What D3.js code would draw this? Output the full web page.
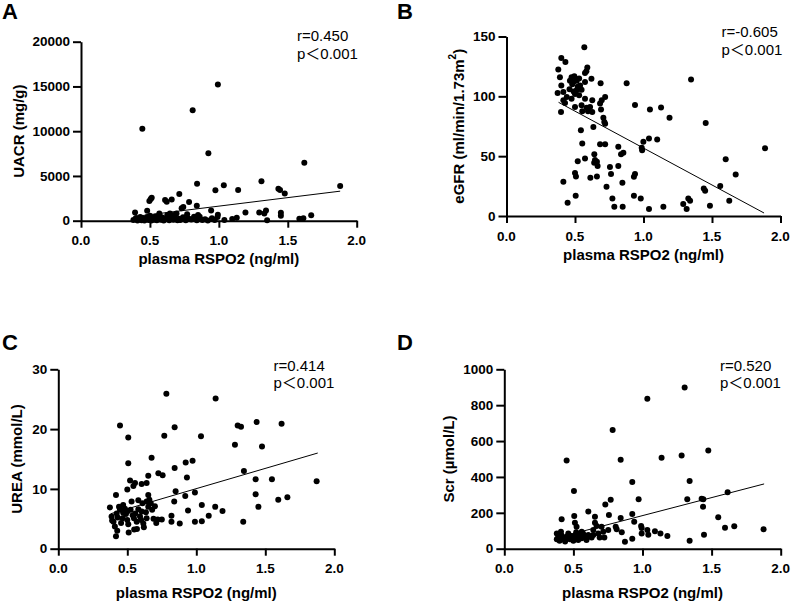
<!DOCTYPE html>
<html>
<head>
<meta charset="utf-8">
<script src="https://cdn.jsdelivr.net/npm/d3@7"></script>
<style>
  body { margin: 0; background: #fff; }
  svg { display: block; }
  text { font-family: "Liberation Sans", Arial, "Noto Sans CJK SC", sans-serif; fill: #000; }
</style>
</head>
<body>
<svg id="chart" width="791" height="603"></svg>
<script>
// ---- data (x = plasma RSPO2 ng/ml) ----
var xTicks = [0, 0.5, 1.0, 1.5, 2.0]

// A: UACR
var rspoA = [0.445,0.81,0.993,0.924,1.62,0.842,1.036,0.975,1.14,1.309,1.432,1.444,1.478,1.88,0.713,0.784,0.506,0.496,0.513,0.61,0.622,0.658,0.742,0.73,0.84,0.392,0.48,0.568,0.626,0.645,0.674,0.693,0.77,0.849,0.861,0.944,0.993,1.193,1.293,1.342,1.33,1.45,1.45,1.67,1.584,1.613,1.35,1.04,1.097,1.13,0.99,
  0.38,0.40,0.41,0.42,0.43,0.44,0.45,0.46,0.47,0.48,0.49,0.50,0.51,0.52,0.53,0.54,0.55,0.56,0.57,0.58,0.59,0.60,0.62,0.63,0.64,0.66,0.67,0.68,0.70,0.71,0.72,0.74,0.76,0.78,0.80,0.82,0.84,0.86,0.88,0.90,0.92,0.95,0.97]
var uacr = [10280,12330,15230,7530,6480,4130,3950,3390,3430,4400,3560,3430,3050,3880,2990,2080,2420,2200,2570,2310,2120,2380,1530,1380,1680,930,1110,810,640,810,640,810,710,640,450,1150,670,930,930,1150,800,890,560,600,220,260,40,70,180,320,420,
  80,300,20,150,420,60,250,30,180,400,90,550,20,300,120,480,50,260,600,110,350,30,180,420,60,300,100,520,40,220,90,380,60,250,130,450,40,200,70,150,30,260,80]
var fitA = [[0.38, 450], [1.88, 3300]]

// B: eGFR
var rspoB = [0.568,0.40,0.43,0.378,0.59,0.583,0.573,0.39,0.62,0.475,0.495,0.463,0.488,0.512,0.573,0.687,0.877,0.40,0.537,0.548,0.512,0.50,0.53,0.373,0.415,0.44,0.475,0.573,0.626,0.695,0.72,0.683,0.415,0.427,0.938,1.047,0.50,0.548,0.585,0.61,0.398,0.553,0.595,0.626,0.69,0.707,0.72,0.714,0.634,0.543,0.553,0.683,0.72,0.816,0.836,0.853,0.999,0.987,0.99,1.04,0.641,0.646,0.66,0.665,0.64,0.573,0.52,0.755,0.816,0.50,0.507,0.66,0.763,0.612,0.938,0.93,0.415,0.846,0.73,0.505,0.773,0.93,0.98,0.446,0.787,0.848,1.04,
  1.347,1.128,1.19,1.454,1.10,1.60,1.673,1.56,1.44,1.45,1.626,1.485,1.327,1.34,1.29,1.315,1.145,1.887,0.48,0.52,0.46,0.53,0.49]
var egfr = [141,132,128.6,122.5,124,121,119.4,116,114.7,116,116.7,113,112,113,112,111,111,109,109,105.6,105,102,101,102.8,103.6,99.4,98,98,96.7,96.7,99.4,94,96.7,94.4,92.8,88.9,91,92.5,90.5,91,87,87.5,87.5,87,89,82,77,78.6,74.4,71.7,60.5,60,60,57.8,51.7,52.8,62,57,55,64.7,51.7,46.7,45.3,41.7,44.4,48,45.8,41,41.7,36,33,33,35,32,35,32.8,28.6,27.8,24.4,17,14.7,17,14.7,11,7.8,7.8,5.8,
  114,90.6,82,77.8,64,47.5,34.7,25,23,21,12.8,8.6,14.7,12.8,10,5.8,7.8,56.7,110,108,106,115,104]
var fitB = [[0.38, 95], [1.88, 2.5]]

// C: UREA
var rspoC = [0.783,1.14,0.447,0.507,0.768,0.843,1.034,1.30,1.324,1.437,1.618,1.28,1.476,0.507,0.676,0.725,0.756,0.843,0.923,0.973,0.932,1.345,1.43,1.548,1.872,0.652,0.52,0.556,0.544,0.604,0.64,0.418,0.5,0.85,0.99,1.43,1.594,1.66,0.84,0.652,0.66,0.67,0.64,0.7,0.68,0.92,1.04,1.137,1.19,0.94,0.82,0.82,0.88,0.99,1.04,1.09,1.34,0.72,0.75,0.71,1.45,
  0.374,0.386,0.40,0.41,0.418,0.427,0.423,0.447,0.466,0.483,0.49,0.50,0.507,0.51,0.524,0.539,0.548,0.558,0.568,0.57,0.592,0.604,0.616,0.62,0.635,0.652,0.64,0.44,0.47,0.531,0.58,0.39,0.455,0.47,0.55,0.6,0.5,0.43,0.69,0.61,0.58]
var urea = [25.9,25.1,20.6,18.6,18.9,20.3,18.8,20.6,20.4,21.2,20.9,17.4,17.1,14.3,15.2,12.6,12.3,13.5,14.4,14.7,11.9,13.0,11.6,11.6,11.3,12.2,11.4,11.0,10.5,10.8,11.0,9.0,9.9,9.6,9.4,9.1,8.2,8.6,7.9,9.0,8.2,7.6,7.9,7.1,6.5,8.8,7.3,7.0,6.3,6.4,5.5,4.5,4.2,4.5,4.6,5.5,4.5,4.9,4.9,4.3,7.0,
  6.9,5.4,4.5,3.7,2.1,3.0,5.9,6.5,5.1,6.7,5.8,4.8,4.1,2.7,6.5,5.6,5.1,5.9,4.5,3.3,5.4,6.2,4.2,3.6,6.1,7.0,5.1,7.0,7.3,7.9,8.1,4.7,4.3,6.0,3.2,4.8,6.2,5.2,5.0,7.6,6.6]
var fitC = [[0.38, 5.85], [1.88, 16.0]]

// D: Scr
var rspoD = [1.305,1.035,0.784,0.451,0.842,1.138,1.283,1.476,0.504,0.926,1.341,1.616,0.972,1.324,1.428,1.44,1.438,0.731,0.77,0.608,0.506,0.415,0.656,0.757,0.926,0.842,1.548,1.597,1.664,1.876,0.94,0.99,0.994,0.806,0.813,0.85,1.035,1.042,1.09,1.13,1.18,0.994,0.926,0.873,1.341,1.445,0.656,0.668,0.644,0.511,0.523,0.704,0.716,0.68,0.69,0.724,0.752,0.56,0.57,
  0.38,0.39,0.40,0.415,0.427,0.44,0.45,0.463,0.475,0.487,0.50,0.511,0.523,0.535,0.547,0.56,0.584,0.595,0.608,0.632,0.644,0.38,0.41,0.46,0.52,0.62]
var scr = [898,836,662,491,496,507,519,548,322,372,377,314,275,275,279,275,234,247,273,208,182,164,178,188,193,171,175,117,125,108,150,126,115,123,108,91,104,78,97,85,71,85,56,39,45,78,145,126,104,145,123,123,95,85,63,63,104,95,85,
  85,63,45,74,52,40,67,85,52,71,45,63,85,48,71,58,71,48,76,63,76,52,95,60,92,68]
var fitD = [[0.38, 60], [1.88, 361]]

// ---- layout of the four panels (pixels) ----
var panels = [
  {letter: "A", lx: 2, ly: 18.5, x0: 81, x1: 356.7, yTop: 41.7, yBot: 220.7, yMax: 20000, yTicks: [0,5000,10000,15000,20000],
   xs: rspoA, ys: uacr, fit: fitA, yTitle: "UACR (mg/g)", yTitleX: 18, xTitleY: 264, r: "r=0.450", statX: 297, statY: 41},
  {letter: "B", lx: 397, ly: 18.5, x0: 506.5, x1: 780.5, yTop: 36.5, yBot: 216, yMax: 150, yTicks: [0,50,100,150],
   xs: rspoB, ys: egfr, fit: fitB, yTitle: null, yTitleX: 458, xTitleY: 260, r: "r=-0.605", statX: 721.5, statY: 37},
  {letter: "C", lx: 2, ly: 350, x0: 58.3, x1: 334.3, yTop: 369.3, yBot: 548.7, yMax: 30, yTicks: [0,10,20,30],
   xs: rspoC, ys: urea, fit: fitC, yTitle: "UREA (mmol/L)", yTitleX: 16.7, xTitleY: 598, r: "r=0.414", statX: 273.5, statY: 370.5},
  {letter: "D", lx: 397, ly: 350, x0: 504.3, x1: 780.7, yTop: 369.3, yBot: 548.7, yMax: 1000, yTicks: [0,200,400,600,800,1000],
   xs: rspoD, ys: scr, fit: fitD, yTitle: "Scr (\u00b5mol/L)", yTitleX: 448.3, xTitleY: 598, r: "r=0.520", statX: 720, statY: 370.5}
]

var svg = d3.select("#chart")

function drawPanel(p) {
  var g = svg.append("g")
  var xScale = d3.scaleLinear().domain([0, 2]).range([p.x0, p.x1])
  var yScale = d3.scaleLinear().domain([0, p.yMax]).range([p.yBot, p.yTop])

  // points
  g.selectAll("circle")
    .data(d3.zip(p.xs, p.ys))
    .join("circle")
      .attr("cx", d => xScale(d[0]))
      .attr("cy", d => yScale(d[1]))
      .attr("r", 3)
      .attr("fill", "#000")

  // fit line
  g.append("path")
    .attr("d", d3.line().x(d => xScale(d[0])).y(d => yScale(d[1]))(p.fit))
    .attr("stroke", "#000")
    .attr("stroke-width", 1)
    .attr("fill", "none")

  // axes (lines only; labels drawn below in bold)
  var x_axis = g.append("g")
    .attr("transform", "translate(0," + p.yBot + ")")
    .call(d3.axisBottom(xScale).tickValues(xTicks).tickFormat("").tickSize(7).tickSizeOuter(0))
  var y_axis = g.append("g")
    .attr("transform", "translate(" + p.x0 + ",0)")
    .call(d3.axisLeft(yScale).tickValues(p.yTicks).tickFormat("").tickSize(8).tickSizeOuter(0))
  ;[x_axis, y_axis].forEach(function(a) {
    a.select(".domain").attr("stroke-width", 2)
    a.selectAll(".tick line").attr("stroke-width", 2)
  })

  g.selectAll(".xlab")
    .data(xTicks)
    .join("text")
      .attr("class", "xlab")
      .attr("x", d => xScale(d))
      .attr("y", p.yBot + 24.5)
      .attr("text-anchor", "middle")
      .attr("font-size", 13.5)
      .attr("font-weight", "bold")
      .text(d3.format(".1f"))
  g.selectAll(".ylab")
    .data(p.yTicks)
    .join("text")
      .attr("class", "ylab")
      .attr("x", p.x0 - 11)
      .attr("y", d => yScale(d))
      .attr("dy", "0.35em")
      .attr("text-anchor", "end")
      .attr("font-size", 13.5)
      .attr("font-weight", "bold")
      .text(d3.format("d"))

  // titles
  g.append("text")
    .attr("x", (p.x0 + p.x1) / 2)
    .attr("y", p.xTitleY)
    .attr("text-anchor", "middle")
    .attr("font-size", 15)
    .attr("font-weight", "bold")
    .text("plasma RSPO2 (ng/ml)")

  var yt = g.append("text")
    .attr("transform", "translate(" + p.yTitleX + "," + ((p.yTop + p.yBot) / 2) + ") rotate(-90)")
    .attr("text-anchor", "middle")
    .attr("dominant-baseline", "central")
    .attr("font-size", 15)
    .attr("font-weight", "bold")
  if (p.yTitle) {
    yt.text(p.yTitle)
  } else {
    yt.append("tspan").text("eGFR (ml/min/1.73m")
    yt.append("tspan").attr("baseline-shift", "super").attr("font-size", 10).text("2")
    yt.append("tspan").text(")")
  }

  // panel letter
  g.append("text")
    .attr("x", p.lx).attr("y", p.ly)
    .attr("font-size", 22).attr("font-weight", "bold")
    .text(p.letter)

  // stats
  g.append("text").attr("x", p.statX).attr("y", p.statY).attr("font-size", 15).text(p.r)
  g.append("text").attr("x", p.statX).attr("y", p.statY + 17.5).attr("font-size", 15).text("p\uff1c0.001")
}

panels.forEach(drawPanel)
</script>
</body>
</html>
